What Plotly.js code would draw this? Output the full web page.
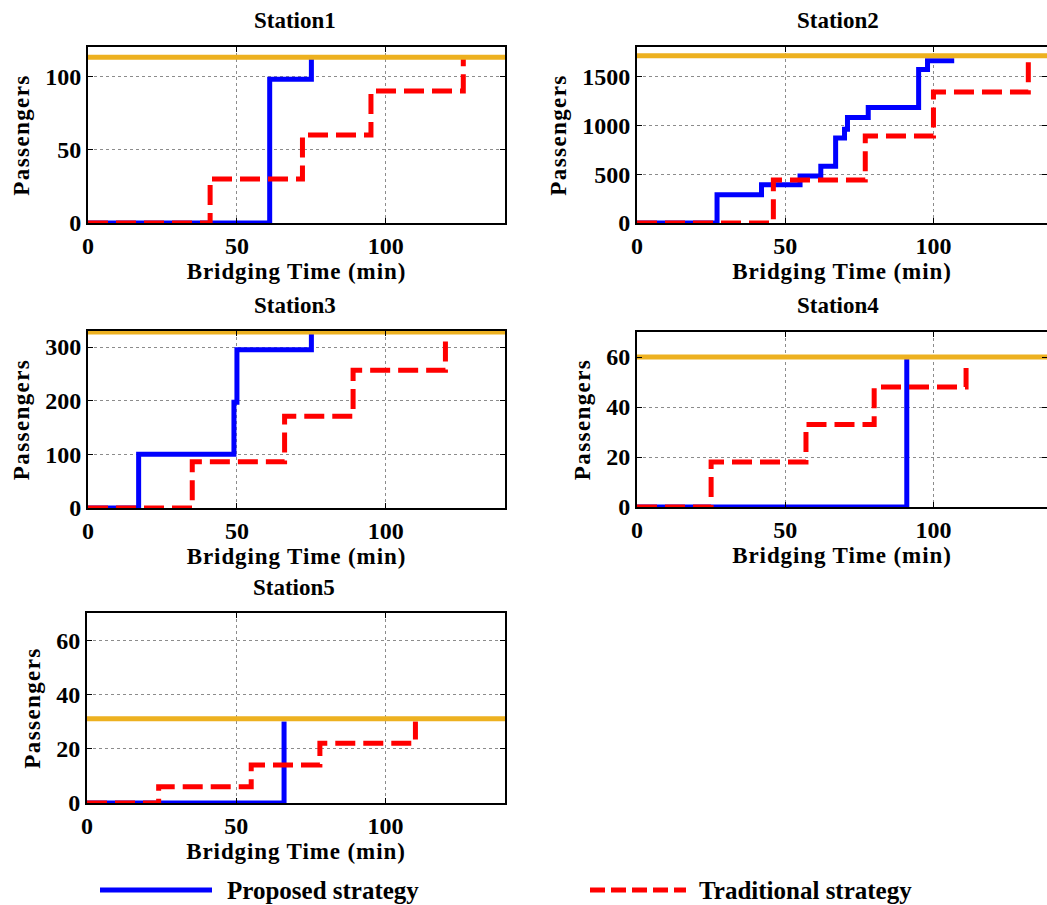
<!DOCTYPE html>
<html>
<head>
<meta charset="utf-8">
<script src="https://cdn.plot.ly/plotly-3.0.1.min.js"></script>
<style>
html,body{margin:0;padding:0;background:#fff;}
#chart{width:1047px;height:905px;}
text.xtitle, text.x2title, text.x3title, text.x4title, text.x5title {letter-spacing: 0.9px;}
text.ytitle, text.y2title, text.y3title, text.y4title, text.y5title {letter-spacing: 1.4px;}
</style>
</head>
<body>
<div id="chart"></div>
<script>
// ---- Data ----
const stationNames = ["Station1", "Station2", "Station3", "Station4", "Station5"];
const capacity = [113, 1710, 328, 60, 31];

const s1PropT = [0, 61, 75];
const s1PropV = [0, 98, 113];
const s1TradT = [0, 41, 72, 95, 126];
const s1TradV = [0, 30, 60, 90, 112];

const s2PropT = [0, 27, 42, 55, 62, 67, 70, 71, 78, 95, 98, 107];
const s2PropV = [0, 290, 390, 480, 580, 870, 960, 1080, 1180, 1570, 1660, 1660];
const s2TradT = [0, 46, 77, 100, 132];
const s2TradV = [0, 440, 890, 1340, 1650];

const s3PropT = [0, 17, 49, 50, 75];
const s3PropV = [0, 100, 197, 295, 328];
const s3TradT = [0, 35, 66, 89, 120];
const s3TradV = [0, 86, 171, 257, 312];

const s4PropT = [0, 91];
const s4PropV = [0, 60];
const s4TradT = [0, 25, 57, 80, 111];
const s4TradV = [0, 18, 33, 48, 58];

const s5PropT = [0, 66];
const s5PropV = [0, 30];
const s5TradT = [0, 24, 55, 78, 110];
const s5TradV = [0, 6, 14, 22, 30];

const xTickVals = [0, 50, 100];
const yDticks = [50, 500, 100, 20, 20];
const yMax = [120, 1800, 330, 70, 70];
const legendLabels = ["Proposed strategy", "Traditional strategy"];

// ---- Layout geometry (pixels) ----
const W = 1047, H = 905;
const px = x => x / W;
const py = y => 1 - y / H;
const boxes = [
  {x0: 88, x1: 505, y0: 47, y1: 223, xmax: 140},
  {x0: 637, x1: 1047, y0: 47, y1: 223, xmax: 138.3},
  {x0: 88, x1: 505, y0: 331, y1: 508, xmax: 140},
  {x0: 637, x1: 1047, y0: 332, y1: 507, xmax: 138.3},
  {x0: 87, x1: 505, y0: 613, y1: 803, xmax: 140}
];

const propT = [s1PropT, s2PropT, s3PropT, s4PropT, s5PropT];
const propV = [s1PropV, s2PropV, s3PropV, s4PropV, s5PropV];
const tradT = [s1TradT, s2TradT, s3TradT, s4TradT, s5TradT];
const tradV = [s1TradV, s2TradV, s3TradV, s4TradV, s5TradV];

const BLUE = "#0000FF", RED = "#FF0000", ORANGE = "#EDB120";
const FONT = "Liberation Serif";

const traces = [];
const layout = {
  width: W, height: H,
  margin: {l: 0, r: 0, t: 0, b: 0},
  paper_bgcolor: "#fff", plot_bgcolor: "#fff",
  showlegend: false,
  font: {family: FONT, color: "#000"},
  annotations: [], shapes: []
};

for (let i = 0; i < 5; i++) {
  const n = i === 0 ? "" : String(i + 1);
  const xa = "x" + n, ya = "y" + n;
  traces.push({x: propT[i], y: propV[i], xaxis: xa, yaxis: ya, mode: "lines",
    line: {shape: "hv", color: BLUE, width: 5}, hoverinfo: "skip"});
  traces.push({x: tradT[i], y: tradV[i], xaxis: xa, yaxis: ya, mode: "lines",
    line: {shape: "hv", color: RED, width: 5, dash: "20px,8px"}, hoverinfo: "skip"});
  traces.push({x: [0, boxes[i].xmax], y: [capacity[i], capacity[i]], xaxis: xa, yaxis: ya, mode: "lines",
    line: {color: ORANGE, width: 5}, hoverinfo: "skip"});

  const b = boxes[i];
  const common = {
    showline: true, linecolor: "#000", linewidth: 2, mirror: "ticks",
    ticks: "inside", ticklen: 5, tickwidth: 1, tickcolor: "#000",
    showgrid: true, gridcolor: "#8c8c8c", gridwidth: 1, griddash: "dot",
    zeroline: false, tickfont: {family: FONT, size: 24, weight: "bold"},
    fixedrange: true
  };
  layout["xaxis" + n] = Object.assign({}, common, {
    domain: [px(b.x0), px(b.x1)], anchor: ya,
    range: [0, b.xmax], tickvals: xTickVals, ticktext: xTickVals.map(String),
    ticklabelstandoff: 0,
    title: {text: "Bridging Time (min)", font: {family: FONT, size: 23, weight: "bold"}, standoff: 2}
  });
  layout["yaxis" + n] = Object.assign({}, common, {
    domain: [py(b.y1), py(b.y0)], anchor: xa,
    range: [0, yMax[i]], dtick: yDticks[i], tick0: 0,
    ticklabelstandoff: 0,
    title: {text: "Passengers", font: {family: FONT, size: 23, weight: "bold"}, standoff: 9}
  });
  layout.annotations.push({
    text: stationNames[i], xref: "paper", yref: "paper",
    x: px((b.x0 + b.x1) / 2 - (i % 2 === 1 ? 4 : 2)), y: py(b.y0 - 26),
    xanchor: "center", yanchor: "middle", showarrow: false,
    font: {family: FONT, size: 23, weight: "bold"}
  });
}

// ---- Manual legend ----
layout.shapes.push({type: "line", xref: "paper", yref: "paper",
  x0: px(100), x1: px(212), y0: py(890), y1: py(890), line: {color: BLUE, width: 5}});
layout.shapes.push({type: "line", xref: "paper", yref: "paper",
  x0: px(590), x1: px(686), y0: py(890), y1: py(890), line: {color: RED, width: 5, dash: "15px,6px"}});
layout.annotations.push({text: legendLabels[0], xref: "paper", yref: "paper",
  x: px(225), y: py(890), xanchor: "left", yanchor: "middle", showarrow: false,
  font: {family: FONT, size: 25, weight: "bold"}});
layout.annotations.push({text: legendLabels[1], xref: "paper", yref: "paper",
  x: px(697), y: py(890), xanchor: "left", yanchor: "middle", showarrow: false,
  font: {family: FONT, size: 25, weight: "bold"}});

Plotly.newPlot("chart", traces, layout, {staticPlot: true, displayModeBar: false});
</script>
</body>
</html>
